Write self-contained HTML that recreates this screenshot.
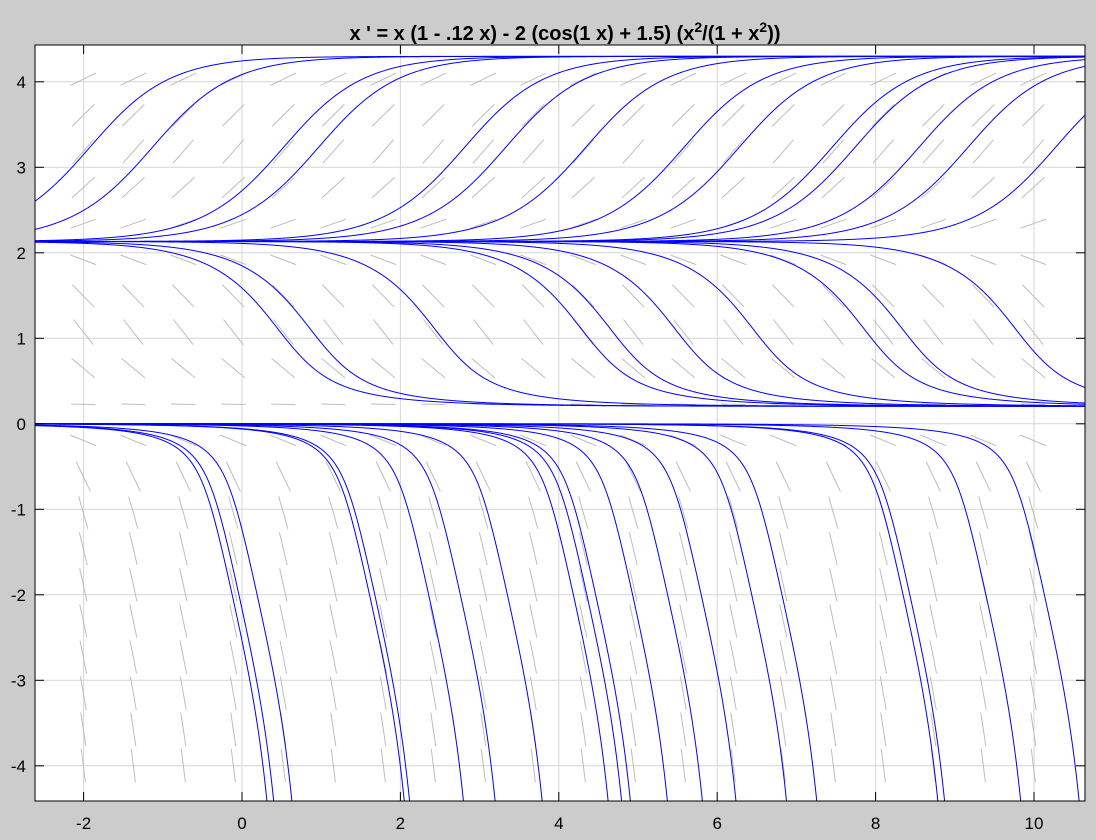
<!DOCTYPE html>
<html><head><meta charset="utf-8">
<style>
html,body{margin:0;padding:0;background:#cccccc;width:1096px;height:840px;overflow:hidden;}
svg{display:block;font-family:"Liberation Sans",sans-serif;}
</style></head>
<body>
<svg id="chart" width="1096" height="840" viewBox="0 0 1096 840" xmlns="http://www.w3.org/2000/svg">
<rect x="0" y="0" width="1096" height="840" fill="#cccccc"/>
<text x="565" y="40" text-anchor="middle" font-size="20" font-weight="bold" fill="#000">x ' = x (1 - .12 x) - 2 (cos(1 x) + 1.5) (x<tspan dy="-8" font-size="14">2</tspan><tspan dy="8">/(1 + x</tspan><tspan dy="-8" font-size="14">2</tspan><tspan dy="8">))</tspan></text>
<defs><clipPath id="plotclip"><rect x="35" y="45" width="1050" height="756"/></clipPath></defs>
<rect x="35" y="45" width="1050" height="756" fill="#ffffff"/>
<g id="grid"></g>
<g id="field" clip-path="url(#plotclip)"></g>
<g id="curves" clip-path="url(#plotclip)"></g>
<g id="axes"></g>
</svg>
<script>
// crossing times of solution curves (t where solution passes the given level)
const upperLevel = 3;
const upperCross = [-2.146, -1.356, 0.300, 0.742, 2.586, 3.105, 4.116, 5.356, 6.053, 7.226, 7.515, 8.322, 8.942, 10.047];
const middleLevel = 1;
const middleCross = [0.547, 0.955, 2.527, 4.379, 4.745, 5.561, 6.546, 7.948, 8.432, 9.860];
const lowerLevel = -2;
const lowerCross = [-0.124, -0.039, 0.191, 1.610, 1.677, 2.357, 2.757, 3.351, 4.184, 4.354, 4.465, 4.932, 5.374, 5.798, 6.436, 6.818, 8.347, 8.432, 9.393, 10.131];
const xTicks = [-2, 0, 2, 4, 6, 8, 10];
const yTicks = [-4, -3, -2, -1, 0, 1, 2, 3, 4];

const NS = "http://www.w3.org/2000/svg";
const L = 35, R = 1085, T = 45, B = 801;
const tMin = (L - 242) / 79.2, tMax = (R - 242) / 79.2;
function sx(t){ return 242 + 79.2 * t; }
function sy(x){ return 423.8 - 85.5 * x; }
function f(x){ return x * (1 - 0.12 * x) - 2 * (Math.cos(x) + 1.5) * (x * x / (1 + x * x)); }
function mk(tag, attrs, parent){ const e = document.createElementNS(NS, tag); for (const k in attrs) e.setAttribute(k, attrs[k]); parent.appendChild(e); return e; }

const grid = document.getElementById('grid');
const axes = document.getElementById('axes');
xTicks.forEach(t => {
  const gl = mk('line', {x1: sx(t), x2: sx(t), y1: T, y2: B, stroke: '#d6d6d6', 'stroke-width': 1}, grid);
  
  
  const tk1 = mk('line', {x1: sx(t), x2: sx(t), y1: B, y2: B - 9, stroke: '#000', 'stroke-width': 1}, axes);
  
  
  const tk2 = mk('line', {x1: sx(t), x2: sx(t), y1: T, y2: T + 9, stroke: '#000', 'stroke-width': 1}, axes);
  
  
  const lb = mk('text', {x: sx(t), y: 829, 'text-anchor': 'middle', 'font-size': 17, fill: '#000'}, axes);
  lb.textContent = t;
  
  
});
yTicks.forEach(v => {
  const gl = mk('line', {x1: L, x2: R, y1: sy(v), y2: sy(v), stroke: '#d6d6d6', 'stroke-width': 1}, grid);
  
  
  const tk1 = mk('line', {x1: L, x2: L + 9, y1: sy(v), y2: sy(v), stroke: '#000', 'stroke-width': 1}, axes);
  
  
  const tk2 = mk('line', {x1: R, x2: R - 9, y1: sy(v), y2: sy(v), stroke: '#000', 'stroke-width': 1}, axes);
  
  
  const lb = mk('text', {x: 26, y: sy(v) + 6, 'text-anchor': 'end', 'font-size': 17, fill: '#000'}, axes);
  lb.textContent = v;
  
  
});
const frame = mk('rect', {x: L, y: T, width: R - L, height: B - T, fill: 'none', stroke: '#000', 'stroke-width': 1}, axes);



// slope field
const field = document.getElementById('field');
for (let i = 0; i < 20; i++) {
  for (let j = 0; j < 20; j++) {
    const cx = 83.3 + 50 * i, cy = 79.2 + 36.12 * j;
    const x = (423.8 - cy) / 85.5;
    const s = f(x) * 85.5 / 79.2;
    const ang = Math.atan(s);
    const len = 24 + 10 * Math.abs(Math.sin(ang));
    const dx = Math.cos(ang) * len / 2, dy = Math.sin(ang) * len / 2;
    const seg = mk('line', {x1: cx - dx, y1: cy + dy, x2: cx + dx, y2: cy - dy, stroke: '#bdbdbd', 'stroke-width': 1}, field);
    
    
  }
}

// integrate solutions
function rk(x, h){ const k1 = f(x), k2 = f(x + h*k1/2), k3 = f(x + h*k2/2), k4 = f(x + h*k3); return x + h*(k1 + 2*k2 + 2*k3 + k4)/6; }
function solve(tc, xc){
  const h = 0.005;
  const back = []; let t = tc, x = xc;
  while (t > tMin - 0.05 && Math.abs(x) < 6) { x = rk(x, -h); t -= h; back.push([t, x]); }
  back.reverse();
  const fwd = [[tc, xc]]; t = tc; x = xc;
  while (t < tMax + 0.05 && Math.abs(x) < 6) { x = rk(x, h); t += h; fwd.push([t, x]); }
  return back.concat(fwd);
}
const curves = document.getElementById('curves');
function drawSet(arr, lvl, name){
  arr.forEach(tc => {
    const pts = solve(tc, lvl);
    const d = pts.map((p, k) => (k ? 'L' : 'M') + sx(p[0]).toFixed(2) + ',' + sy(p[1]).toFixed(2)).join('');
    const p = mk('path', {d: d, fill: 'none', stroke: '#0000ff', 'stroke-width': 1}, curves);
    
    
  });
}
drawSet(upperCross, upperLevel, 'upper-solution-curve');
drawSet(middleCross, middleLevel, 'middle-solution-curve');
drawSet(lowerCross, lowerLevel, 'lower-solution-curve');
</script>
</body></html>
